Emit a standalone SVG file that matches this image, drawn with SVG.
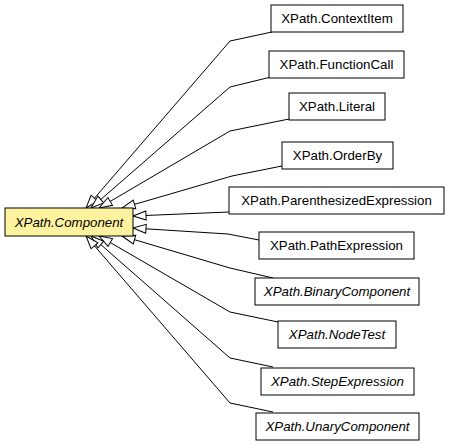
<svg xmlns="http://www.w3.org/2000/svg" width="451" height="445" viewBox="0 0 451 445">
<style>
.n rect{fill:#ffffff;stroke:#000000;stroke-width:1}
.n.main rect{fill:#fff3a0}
.n text{font-family:"Liberation Sans",Arial,sans-serif;font-size:13.3px;text-anchor:middle;fill:#000000}
.n text.i{font-style:italic}
#edges path{fill:none;stroke:#000000;stroke-width:1;marker-end:url(#hollow)}
</style>
<defs>
<marker id="hollow" markerUnits="userSpaceOnUse" viewBox="-14 -6 15 12" refX="0" refY="0" markerWidth="15" markerHeight="12" orient="auto">
<polygon points="0,0 -13,-4.5 -13,4.5" fill="#ffffff" stroke="#000000" stroke-width="1"/>
</marker>
</defs>
<rect x="0" y="0" width="451" height="445" fill="#ffffff"/>
<g id="edges">
<path d="M272,32 L230,41 L86,208"/>
<path d="M271,77 L230,87 L91,208"/>
<path d="M289,119 L230,131 L99,208"/>
<path d="M282,166 L232,176 L122,208"/>
<path d="M229,212 L133,216"/>
<path d="M259,240 L228,234 L133,228"/>
<path d="M273,278 L230,268 L122,236"/>
<path d="M278,322 L230,312 L99,236"/>
<path d="M273,367 L230,358 L91,236"/>
<path d="M273,412 L230,403 L86,236"/>
</g>
<g id="XPath.Component" class="n main"><rect x="5" y="208" width="128" height="28"/><text class="i" x="69" y="226.5">XPath.Component</text></g>
<g id="XPath.ContextItem" class="n"><rect x="271" y="5" width="132" height="27"/><text x="337" y="23">XPath.ContextItem</text></g>
<g id="XPath.FunctionCall" class="n"><rect x="269" y="51" width="135" height="27"/><text x="336.5" y="69">XPath.FunctionCall</text></g>
<g id="XPath.Literal" class="n"><rect x="289" y="93" width="96" height="27"/><text x="337" y="111">XPath.Literal</text></g>
<g id="XPath.OrderBy" class="n"><rect x="282" y="142" width="111" height="27"/><text x="337.5" y="160">XPath.OrderBy</text></g>
<g id="XPath.ParenthesizedExpression" class="n"><rect x="229" y="187" width="215" height="27"/><text x="336.5" y="205">XPath.ParenthesizedExpression</text></g>
<g id="XPath.PathExpression" class="n"><rect x="259" y="232" width="155" height="27"/><text x="336.5" y="250">XPath.PathExpression</text></g>
<g id="XPath.BinaryComponent" class="n"><rect x="255" y="278" width="164" height="27"/><text class="i" x="337" y="296">XPath.BinaryComponent</text></g>
<g id="XPath.NodeTest" class="n"><rect x="278" y="321" width="118" height="27"/><text class="i" x="337" y="339">XPath.NodeTest</text></g>
<g id="XPath.StepExpression" class="n"><rect x="261" y="368" width="153" height="27"/><text class="i" x="337.5" y="386">XPath.StepExpression</text></g>
<g id="XPath.UnaryComponent" class="n"><rect x="256" y="413" width="163" height="27"/><text class="i" x="337.5" y="431">XPath.UnaryComponent</text></g>
</svg>
